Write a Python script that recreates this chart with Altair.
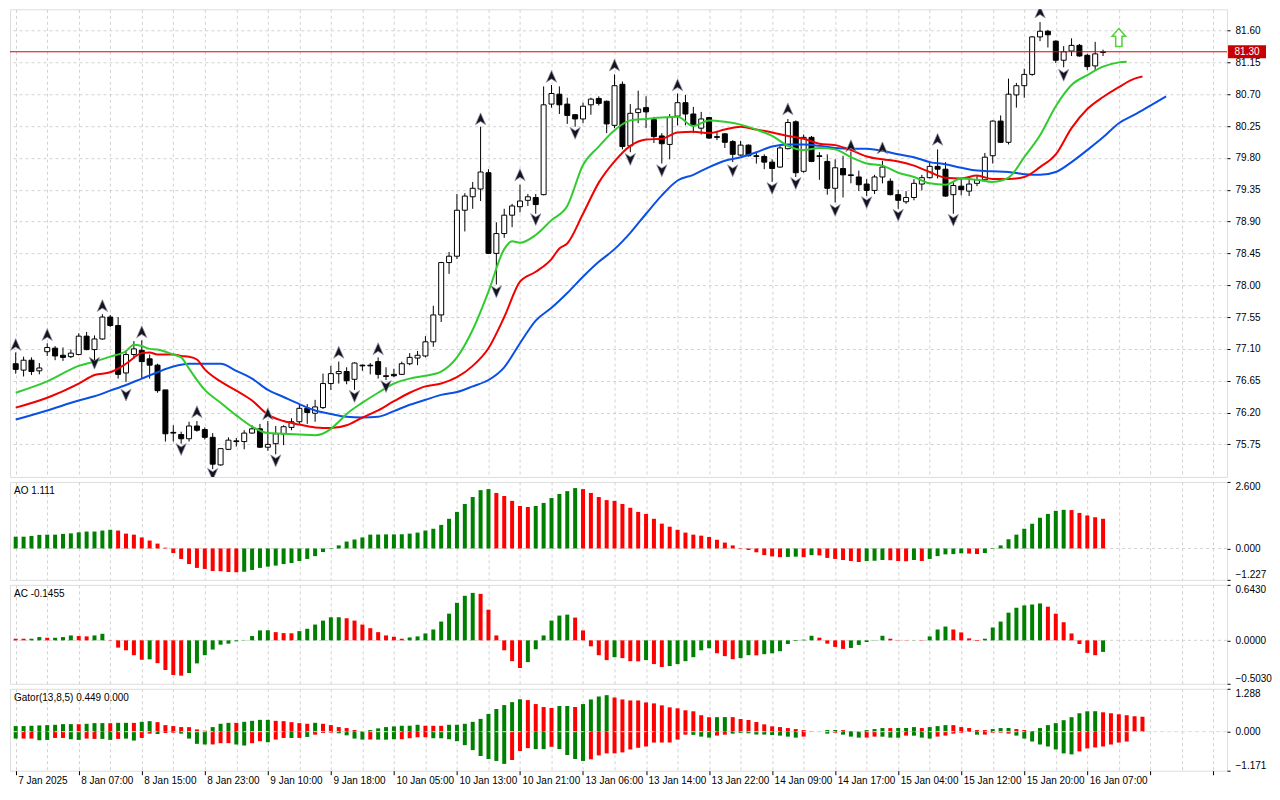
import json
import altair as alt
import pandas as pd

# ---------------- price candles (hourly bars, index 0..138) ----------------
opens = [76.89,76.80,76.94,76.79,77.06,77.11,77.01,76.99,77.02,77.28,
77.09,77.24,77.55,77.43,76.76,77.02,77.08,76.96,76.87,76.52,
75.92,75.89,75.83,76.01,75.96,75.85,75.46,75.68,75.80,75.79,
75.91,75.97,75.71,75.76,75.90,75.99,76.07,76.26,76.19,76.27,
76.61,76.75,76.78,76.67,76.87,76.87,76.92,76.72,76.74,76.74,
76.89,76.97,77.00,77.20,77.58,78.32,78.41,79.06,79.25,79.36,
79.59,78.45,78.73,78.99,79.11,79.20,79.24,79.28,80.56,80.70,
80.56,80.41,80.35,80.55,80.64,80.60,80.26,80.84,79.97,80.44,
80.51,80.34,80.11,79.99,80.39,80.58,80.42,80.22,80.37,80.10,
80.14,80.03,79.84,79.98,79.83,79.82,79.74,79.67,79.93,80.31,
79.61,80.09,79.83,79.75,79.37,79.65,79.56,79.53,79.43,79.34,
79.53,79.47,79.28,79.18,79.24,79.43,79.52,79.68,79.64,79.28,
79.40,79.33,79.44,79.49,79.83,80.32,80.02,80.69,80.82,80.98,
81.51,81.59,81.45,81.18,81.31,81.39,81.25,81.10,81.29]
highs = [77.05,76.99,76.98,76.90,77.18,77.14,77.12,77.09,77.32,77.34,
77.29,77.59,77.58,77.55,77.08,77.21,77.22,77.02,76.89,76.52,
76.02,75.93,76.07,76.08,75.99,75.91,75.70,75.85,75.84,75.95,
76.02,76.04,76.08,76.01,76.02,76.12,76.31,76.32,76.38,76.75,
76.86,76.92,76.84,76.91,76.88,76.90,76.98,76.84,76.82,76.92,
77.04,77.07,77.28,77.71,78.33,78.47,79.29,79.30,79.46,80.24,
79.64,78.89,79.08,79.15,79.42,79.29,79.29,80.81,80.83,80.81,
80.65,80.42,80.58,80.65,80.67,80.61,80.98,80.88,80.56,80.75,
80.67,80.38,80.15,80.42,80.71,80.69,80.52,80.45,80.38,80.17,
80.15,80.05,80.04,79.99,79.88,79.85,79.78,79.97,80.35,80.33,
80.13,80.11,79.88,79.85,79.78,79.83,79.89,79.62,79.50,79.56,
79.76,79.51,79.35,79.33,79.50,79.56,79.75,79.92,79.74,79.46,
79.52,79.53,79.55,79.87,80.33,80.40,80.92,80.86,81.06,81.52,
81.72,81.61,81.46,81.38,81.49,81.41,81.27,81.44,81.33]
lows = [76.75,76.71,76.73,76.74,77.00,76.94,76.93,76.97,77.01,77.08,
76.93,77.23,77.41,76.68,76.63,76.96,76.68,76.68,76.48,75.79,
75.79,75.76,75.79,75.93,75.82,75.40,75.45,75.67,75.72,75.68,
75.90,75.70,75.66,75.61,75.74,75.95,76.04,76.04,76.07,76.25,
76.52,76.61,76.60,76.52,76.79,76.74,76.68,76.66,76.70,76.73,
76.87,76.87,76.98,77.13,77.48,78.16,78.37,78.76,79.08,79.19,
78.44,78.01,78.67,78.82,79.03,79.12,79.01,79.27,80.51,80.42,
80.28,80.24,80.29,80.41,80.54,80.15,80.22,79.92,79.88,80.29,
80.22,80.01,79.72,79.78,80.26,80.26,80.15,80.13,80.07,80.05,
79.94,79.74,79.83,79.82,79.72,79.64,79.46,79.66,79.92,79.53,
79.59,79.74,79.49,79.28,79.17,79.24,79.44,79.33,79.26,79.29,
79.44,79.27,79.08,79.15,79.20,79.34,79.51,79.51,79.25,79.01,
79.27,79.26,79.40,79.47,79.72,80.01,79.99,80.51,80.65,80.96,
81.45,81.36,81.14,81.08,81.24,81.23,81.04,81.03,81.24]
closes = [76.81,76.94,76.78,76.83,77.12,77.00,76.98,77.04,77.28,77.09,
77.24,77.55,77.43,76.74,77.02,77.10,76.92,76.87,76.51,75.90,
75.91,75.83,76.01,75.95,75.85,75.47,75.69,75.81,75.79,75.91,
75.97,75.71,75.75,75.90,76.00,76.07,76.26,76.20,76.28,76.61,
76.75,76.78,76.65,76.90,76.86,76.86,76.74,76.71,76.72,76.89,
76.98,77.01,77.20,77.58,78.32,78.41,79.06,79.26,79.37,79.60,
78.45,78.73,78.99,79.12,79.19,79.25,79.14,80.55,80.71,80.55,
80.40,80.35,80.53,80.63,80.57,80.28,80.82,79.96,80.43,80.49,
80.45,80.10,80.00,80.37,80.58,80.42,80.26,80.35,80.08,80.09,
80.02,79.85,79.98,79.83,79.82,79.74,79.65,79.94,80.30,79.59,
80.09,79.75,79.82,79.37,79.66,79.56,79.55,79.42,79.34,79.53,
79.67,79.28,79.20,79.24,79.44,79.52,79.68,79.64,79.26,79.41,
79.35,79.43,79.49,79.81,80.32,80.02,80.70,80.82,80.98,81.51,
81.59,81.54,81.18,81.30,81.39,81.24,81.09,81.27,81.30]

time_labels = ["7 Jan 2025", "8 Jan 07:00", "8 Jan 15:00", "8 Jan 23:00", "9 Jan 10:00",
               "9 Jan 18:00", "10 Jan 05:00", "10 Jan 13:00", "10 Jan 21:00", "13 Jan 06:00",
               "13 Jan 14:00", "13 Jan 22:00", "14 Jan 09:00", "14 Jan 17:00", "15 Jan 04:00",
               "15 Jan 12:00", "15 Jan 20:00", "16 Jan 07:00"]
price_ticks = [75.75, 76.20, 76.65, 77.10, 77.55, 78.00, 78.45, 78.90, 79.35, 79.80,
               80.25, 80.70, 81.15, 81.60]
last_price = 81.30

# ---------------- Alligator lines (sampled along the bars) ----------------
jaw_k = [0,4,8,10,12,14,16,18,20,22,24,26,28,30,32,34,36,38,40,42,44,46,48,50,52,54,56,58,60,62,
         64,66,68,70,72,74,76,78,80,82,84,86,88,90,92,94,96,98,100,102,104,106,108,110,112,114,116,
         118,120,122,124,126,128,130,132,134,136,138,140,142,144,146]
jaw_v = [76.10,76.23,76.37,76.43,76.51,76.59,76.68,76.77,76.85,76.89,76.89,76.89,
         76.79,76.68,76.52,76.42,76.32,76.23,76.18,76.14,76.13,76.14,
         76.22,76.31,76.38,76.45,76.49,76.57,76.66,76.84,77.18,77.50,
         77.68,77.89,78.12,78.33,78.51,78.74,79.01,79.27,79.48,79.56,
         79.67,79.76,79.81,79.88,79.96,79.99,79.99,79.97,79.94,79.93,
         79.93,79.90,79.85,79.81,79.74,79.71,79.66,79.62,79.61,79.60,
         79.57,79.56,79.60,79.74,79.91,80.09,80.29,80.41,80.54,80.67]
teeth_k = [0,4,8,10,12,14,16,17,18,20,21,22,23,24,26,28,30,32,34,36,38,40,42,44,46,48,50,52,54,56,
           58,60,62,64,66,68,69,70,72,74,76,78,80,82,84,86,88,90,92,94,96,98,100,102,104,106,108,
           110,112,114,116,118,120,122,124,126,128,130,132,134,136,138,140,142,143]
teeth_v = [76.27,76.41,76.61,76.73,76.77,76.89,77.04,77.05,77.02,77.02,
           77.00,76.99,76.95,76.81,76.64,76.51,76.37,76.17,76.08,76.03,
           75.99,75.98,76.02,76.13,76.23,76.36,76.48,76.57,76.61,76.70,
           76.86,77.11,77.55,78.05,78.19,78.37,78.52,78.59,79.01,79.45,
           79.75,79.97,80.06,80.07,80.16,80.17,80.15,80.20,80.24,80.20,
           80.16,80.11,80.07,80.00,79.98,79.91,79.82,79.78,79.75,79.69,
           79.60,79.52,79.51,79.55,79.50,79.50,79.53,79.67,79.85,80.22,
           80.49,80.66,80.80,80.92,80.95]
lips_k = [0,4,8,10,12,14,15,16,17,18,20,21,22,24,26,28,30,32,34,36,38,40,41,42,44,46,48,50,52,54,
          56,58,60,62,63,64,66,68,70,72,74,76,78,80,82,84,86,88,90,92,94,96,98,100,102,104,106,108,
          110,112,114,116,118,120,122,124,126,128,130,132,134,136,138,140,141]
lips_v = [76.48,76.64,76.86,76.92,76.99,77.07,77.16,77.14,77.10,77.09,
          77.02,76.98,76.82,76.52,76.34,76.16,76.00,75.91,75.90,75.89,
          75.88,75.97,76.07,76.18,76.34,76.48,76.61,76.68,76.72,76.78,
          76.98,77.37,77.91,78.51,78.62,78.60,78.71,78.92,79.12,79.70,
          79.96,80.19,80.33,80.35,80.37,80.38,80.25,80.33,80.31,80.27,
          80.20,80.11,79.97,79.91,79.94,79.92,79.81,79.72,79.69,79.59,
          79.53,79.44,79.42,79.51,79.49,79.46,79.52,79.81,80.12,80.53,
          80.83,80.97,81.09,81.15,81.16]

# ---------------- Fractals and signal arrow ----------------
up_k = [0,4,11,16,23,32,41,46,59,64,68,76,84,98,106,110,117,130]
up_p = [77.16,77.30,77.71,77.34,76.21,76.18,77.05,77.10,80.35,79.56,80.95,81.11,80.83,80.49,
        79.97,79.94,80.06,81.86]
down_k = [10,14,21,25,33,43,47,61,66,71,78,82,91,96,99,104,108,112,119,133]
down_p = [76.90,76.45,75.68,75.33,75.52,76.43,76.57,77.91,78.93,80.15,79.78,79.62,79.62,79.37,
          79.44,79.06,79.17,78.99,78.92,80.97]
signal_k = [140]
signal_p = [81.50]

# ---------------- Awesome Oscillator ----------------
ao_vals = [0.46,0.46,0.49,0.53,0.54,0.54,0.57,0.59,0.63,0.66,
0.66,0.70,0.73,0.70,0.58,0.54,0.43,0.31,0.19,0.03,
-0.18,-0.41,-0.61,-0.76,-0.80,-0.88,-0.89,-0.92,-0.93,-0.91,
-0.84,-0.76,-0.71,-0.67,-0.61,-0.57,-0.49,-0.41,-0.30,-0.14,
-0.02,0.12,0.27,0.35,0.43,0.54,0.545,0.55,0.55,0.555,
0.58,0.62,0.70,0.77,0.92,1.16,1.43,1.74,2.01,2.28,
2.32,2.17,2.05,1.86,1.66,1.62,1.66,1.78,1.97,2.13,
2.24,2.36,2.32,2.17,2.01,1.89,1.86,1.74,1.59,1.43,
1.35,1.16,0.97,0.85,0.73,0.62,0.54,0.50,0.45,0.34,
0.23,0.12,-0.02,-0.06,-0.15,-0.26,-0.31,-0.34,-0.33,-0.32,
-0.34,-0.26,-0.27,-0.37,-0.41,-0.45,-0.49,-0.53,-0.49,-0.48,
-0.45,-0.46,-0.49,-0.50,-0.45,-0.49,-0.41,-0.30,-0.23,-0.22,
-0.19,-0.20,-0.22,-0.18,-0.02,0.12,0.36,0.54,0.77,0.97,
1.20,1.35,1.47,1.51,1.50,1.39,1.29,1.22,1.16]
ao_cols = ("GGGGGGGGGG" "GGGRRRRRRR" "RRRRRRRRRG" "GGGGGGGGGG" "GGGGGGGGGG" "GGGGGGGGGG"
           "GRRRRRGGGG" "GGRRRRRRRR" "RRRRRRRRRR" "RRRRRRRRGG" "RGRRRRRRGG" "GRRRGRGGGG"
           "GRRGGGGGGG" "GGGGRRRRR")

# ---------------- Accelerator Oscillator ----------------
ac_vals = [0.019,0.019,0.019,0.038,0.030,0.030,0.038,0.057,0.050,0.046,
0.057,0.076,0.004,-0.084,-0.115,-0.172,-0.225,-0.220,-0.264,-0.344,
-0.401,-0.409,-0.378,-0.267,-0.172,-0.107,-0.050,-0.038,-0.011,0.003,
0.050,0.115,0.117,0.095,0.084,0.082,0.107,0.134,0.183,0.229,
0.267,0.268,0.256,0.229,0.183,0.141,0.095,0.057,0.042,0.019,
0.034,0.046,0.080,0.126,0.218,0.309,0.435,0.516,0.550,0.539,
0.355,0.057,-0.115,-0.241,-0.321,-0.252,-0.103,0.057,0.229,0.287,
0.298,0.264,0.115,-0.069,-0.172,-0.229,-0.195,-0.206,-0.241,-0.243,
-0.229,-0.275,-0.309,-0.298,-0.275,-0.241,-0.195,-0.115,-0.092,-0.149,
-0.183,-0.218,-0.206,-0.172,-0.174,-0.160,-0.150,-0.126,-0.042,-0.008,
0.008,0.053,0.031,-0.038,-0.076,-0.099,-0.088,-0.053,-0.019,-0.003,
0.053,0.019,0.003,-0.003,0.002,-0.004,0.046,0.126,0.160,0.126,
0.092,0.023,-0.008,0.019,0.149,0.218,0.321,0.378,0.405,0.416,
0.428,0.390,0.309,0.210,0.080,-0.042,-0.145,-0.172,-0.134]
ac_cols = ("RRGGRGGGRR" "GGRRRRRGRR" "RRGGGGGGGG" "GGGRRRGGGG" "GGRRRRRRRR" "GGGGGGGGGR"
           "RRRRRGGGGG" "GRRRRRGRRR" "GRRGGGGGGR" "RRGGRGGGGG" "GGRRRRGGGG" "GRRRGRGGGR"
           "RRRGGGGGGG" "GRRRRRRRG")

# ---------------- Gator oscillator ----------------
gator_up = [0.168,0.168,0.178,0.188,0.197,0.207,0.227,0.227,0.225,0.237,
0.257,0.257,0.255,0.266,0.266,0.264,0.296,0.316,0.286,0.197,
0.168,0.138,0.136,0.069,0.030,0.138,0.237,0.266,0.265,0.296,
0.326,0.355,0.356,0.326,0.316,0.286,0.257,0.237,0.266,0.237,
0.197,0.138,0.109,0.049,0.010,0.049,0.099,0.138,0.158,0.178,
0.179,0.207,0.178,0.177,0.176,0.207,0.208,0.237,0.296,0.385,
0.533,0.681,0.799,0.888,0.977,0.948,0.829,0.740,0.711,0.770,
0.771,0.740,0.829,0.967,1.056,1.096,1.026,0.967,0.938,0.937,
0.878,0.849,0.790,0.730,0.701,0.642,0.612,0.494,0.434,0.436,
0.438,0.437,0.380,0.350,0.290,0.220,0.160,0.138,0.109,0.079,
0.049,0.012,0.005,0.049,0.050,0.048,0.020,0.006,0.049,0.079,
0.109,0.108,0.110,0.111,0.138,0.109,0.138,0.168,0.197,0.196,
0.138,0.109,0.049,0.048,0.079,0.109,0.110,0.079,0.049,0.020,
0.109,0.197,0.257,0.345,0.434,0.553,0.612,0.614,0.582,0.553,
0.523,0.494,0.464,0.449]
gator_up_cols = ("GGGGGGGGRG" "GGRGGRGGRR" "RRRRRGGGRG" "GGGRRRRRGR" "RRRRRGGGGG" "GGRRRGGGGG"
                 "GGGGGRRRRG" "GRGGGGRRRR" "RRRRRRRRRG" "GRRRRRRRRR" "RRRGGRRRGG" "GRGGGRGGGR"
                 "RRRRGGGRRR" "GGGGGGGGRR" "RRRR")
gator_lo = [-0.207,-0.207,-0.207,-0.257,-0.247,-0.188,-0.188,-0.227,-0.247,-0.207,
-0.217,-0.217,-0.247,-0.217,-0.207,-0.266,-0.188,-0.059,-0.069,-0.039,
-0.030,-0.059,-0.207,-0.365,-0.385,-0.383,-0.345,-0.344,-0.385,-0.415,
-0.345,-0.286,-0.316,-0.237,-0.188,-0.189,-0.187,-0.158,-0.089,-0.039,
-0.030,-0.049,-0.109,-0.207,-0.237,-0.236,-0.238,-0.239,-0.227,-0.226,
-0.197,-0.168,-0.167,-0.197,-0.198,-0.227,-0.286,-0.405,-0.553,-0.730,
-0.819,-0.878,-0.967,-0.849,-0.582,-0.494,-0.523,-0.524,-0.454,-0.523,
-0.700,-0.819,-0.878,-0.829,-0.711,-0.651,-0.650,-0.622,-0.533,-0.484,
-0.444,-0.326,-0.325,-0.324,-0.237,-0.089,-0.095,-0.148,-0.178,-0.118,
-0.089,-0.059,-0.035,-0.050,-0.085,-0.088,-0.100,-0.118,-0.148,-0.178,
-0.148,-0.010,-0.005,-0.059,-0.030,-0.089,-0.148,-0.178,-0.176,-0.148,
-0.150,-0.178,-0.180,-0.118,-0.120,-0.178,-0.207,-0.148,-0.118,-0.059,
-0.030,-0.005,-0.089,-0.088,-0.030,-0.029,-0.059,-0.118,-0.207,-0.296,
-0.385,-0.444,-0.533,-0.651,-0.681,-0.592,-0.503,-0.474,-0.444,-0.385,
-0.326,-0.296]
gator_lo_cols = ("GRRGGRRGGR" "RGGRGGRRGR" "RGGGGRRRGG" "RRGRRGRGRR" "RGGGGRGGGR" "RRRGGGGGGG"
                 "GGGRRRGGRG" "GGGRRRRRRR" "RRRRRRGGGR" "RGGGGGGGGG" "RRRGRGGGRR" "GGGRGGGRRR"
                 "RRGRRRRGGG" "GGGGGRRRRR" "RR")

panel_titles = ["AO 1.111", "AC -0.1455", "Gator(13,8,5) 0.449 0.000"]
ao_domain = [-1.227, 2.6]
ac_domain = [-0.503, 0.643]
gator_domain = [-1.171, 1.288]
main_domain = [75.29, 81.90]

# ---------------- styling ----------------
FONT = "Liberation Sans"
W = 1218
H_MAIN, H_AO, H_AC, H_GT = 468, 98, 99, 82
GRID = "#d2d2d2"
GREEN = "#008000"
RED = "#ff0000"
PRICE_RED = "#e00000"
X_DOMAIN = [-0.09, 153.1]
grid_vals = list(range(0, 153, 4))

label_expr = "(datum.value % 8 == 0 && datum.value / 8 < {n}) ? {arr}[datum.value / 8] : ''".format(
    n=len(time_labels), arr=json.dumps(time_labels))

xscale = alt.Scale(domain=X_DOMAIN, nice=False, zero=False)


def xaxis(labels):
    if labels:
        return alt.Axis(values=grid_vals, grid=True, gridDash=[3, 3], gridColor=GRID,
                        labelExpr=label_expr, labelAlign="left", labelBaseline="top",
                        labelFlush=False, labelOverlap=False, labelBound=False,
                        labelFont=FONT, labelFontSize=10, labelColor="black",
                        labelPadding=1, labelOffset=2,
                        ticks=True, tickSize=4, tickColor="black",
                        tickOpacity={"condition": {"test": "datum.value % 8 == 0", "value": 1}, "value": 0},
                        domain=False, title=None)
    return alt.Axis(values=grid_vals, grid=True, gridDash=[3, 3], gridColor=GRID,
                    labels=False, ticks=False, domain=False, title=None)


def X(field, labels=False):
    return alt.X(f"{field}:Q", scale=xscale, axis=xaxis(labels))


main_yscale = alt.Scale(domain=main_domain, nice=False, zero=False)
main_yaxis = alt.Axis(orient="right", values=price_ticks, format=".2f", grid=True, gridDash=[3, 3],
                      gridColor=GRID, tickSize=3, tickColor="black", domain=False, labelFont=FONT,
                      labelFontSize=10, labelColor="black", labelPadding=5, title=None)


def YM(field):
    return alt.Y(f"{field}:Q", scale=main_yscale, axis=main_yaxis)


n = min(len(opens), len(highs), len(lows), len(closes))
candles = pd.DataFrame({"k": list(range(n)), "open": opens[:n], "high": highs[:n],
                        "low": lows[:n], "close": closes[:n]})
candles["fillc"] = ["white" if c >= o else "black" for o, c in zip(candles["open"], candles["close"])]

wicks = alt.Chart(candles).mark_rule(color="black", strokeWidth=1).encode(
    x=X("k"), y=YM("low"), y2="high:Q")
bodies = alt.Chart(candles).mark_bar(size=5, stroke="black", strokeWidth=1, opacity=1).encode(
    x=X("k"), y=YM("open"), y2="close:Q", fill=alt.Fill("fillc:N", scale=None))


def line_layer(ks, vs, color):
    m = min(len(ks), len(vs))
    df = pd.DataFrame({"k": ks[:m], "v": vs[:m]})
    return alt.Chart(df).mark_line(color=color, strokeWidth=2, interpolate="monotone").encode(
        x=X("k"), y=YM("v"))


jaw = line_layer(jaw_k, jaw_v, "#0a50e6")
teeth = line_layer(teeth_k, teeth_v, "#f20000")
lips = line_layer(lips_k, lips_v, "#2fcc2f")

UP_PATH = "M0,-1L0.85,0.95L0,0.4L-0.85,0.95Z"
DN_PATH = "M0,1L0.85,-0.95L0,-0.4L-0.85,-0.95Z"
up_df = pd.DataFrame({"k": up_k, "p": up_p})
dn_df = pd.DataFrame({"k": down_k, "p": down_p})
up_fr = alt.Chart(up_df).mark_point(shape=UP_PATH, filled=True, color="#141420", stroke="#9a9aae",
                                     strokeWidth=0.7, size=150, opacity=1, clip=True).encode(
    x=X("k"), y=YM("p"))
dn_fr = alt.Chart(dn_df).mark_point(shape=DN_PATH, filled=True, color="#141420", stroke="#9a9aae",
                                     strokeWidth=0.7, size=150, opacity=1, clip=True).encode(
    x=X("k"), y=YM("p"))

lp_df = pd.DataFrame({"p": [last_price], "t": [f"{last_price:.2f}"]})
red_line = alt.Chart(lp_df).mark_rule(color=PRICE_RED, stroke=PRICE_RED, strokeWidth=1.2,
                                      opacity=1).encode(y=YM("p"))
box = alt.Chart(lp_df).mark_point(shape="M-1,-0.34L1,-0.34L1,0.34L-1,0.34Z", size=1444, filled=True,
                                  color="#c80000", opacity=1).encode(x=alt.value(W + 20), y=YM("p"))
box_text = alt.Chart(lp_df).mark_text(color="white", font=FONT, fontSize=10, align="center",
                                      baseline="middle").encode(x=alt.value(W + 20), y=YM("p"), text="t:N")

ARROW = "M0,-1L0.75,-0.15L0.35,-0.15L0.35,1L-0.35,1L-0.35,-0.15L-0.75,-0.15Z"
sig_df = pd.DataFrame({"k": signal_k, "p": signal_p})
signal = alt.Chart(sig_df).mark_point(shape=ARROW, size=324, filled=True, fill="white",
                                      stroke="#52d23a", strokeWidth=1.5, opacity=1).encode(
    x=X("k"), y=YM("p"))

main = alt.layer(wicks, bodies, jaw, teeth, lips, up_fr, dn_fr, red_line, box, box_text, signal).properties(
    width=W, height=H_MAIN)


def hist_df(vals, cols):
    m = min(len(vals), len(cols))
    return pd.DataFrame({"k": list(range(m)), "v": vals[:m], "c": list(cols[:m]), "z": [0.0] * m})


def y_ind(domain, fmt):
    scale = alt.Scale(domain=domain, nice=False, zero=False)
    axis = alt.Axis(orient="right", values=[domain[0], 0, domain[1]], format=fmt, grid=False,
                    tickSize=3, tickColor="black", domain=False, labelFont=FONT, labelFontSize=10,
                    labelColor="black", labelPadding=5, labelFlush=True, title=None)
    return scale, axis


color_enc = alt.Color("c:N", scale=alt.Scale(domain=["G", "R"], range=[GREEN, RED]), legend=None)


def title_layer(text):
    return alt.Chart(pd.DataFrame({"t": [text]})).mark_text(
        align="left", baseline="middle", font=FONT, fontSize=10, color="black").encode(
        x=alt.value(4), y=alt.value(9), text="t:N")


def osc_panel(vals, cols, domain, fmt, title, height, labels=False):
    scale, axis = y_ind(domain, fmt)
    df = hist_df(vals, cols)
    zero = alt.Chart(pd.DataFrame({"z": [0.0]})).mark_rule(color=GRID, strokeDash=[3, 3]).encode(
        y=alt.Y("z:Q", scale=scale, axis=axis))
    bars = alt.Chart(df).mark_bar(size=4, opacity=1).encode(
        x=X("k", labels), y=alt.Y("v:Q", scale=scale, axis=axis), y2="z:Q", color=color_enc)
    return alt.layer(zero, bars, title_layer(title)).properties(width=W, height=height)


ao = osc_panel(ao_vals, ao_cols, ao_domain, ".3f", panel_titles[0], H_AO)
ac = osc_panel(ac_vals, ac_cols, ac_domain, ".4f", panel_titles[1], H_AC)

g_scale, g_axis = y_ind(gator_domain, ".3f")
g_up = alt.Chart(hist_df(gator_up, gator_up_cols)).mark_bar(size=4, opacity=1).encode(
    x=X("k", True), y=alt.Y("v:Q", scale=g_scale, axis=g_axis), y2="z:Q", color=color_enc)
g_lo = alt.Chart(hist_df(gator_lo, gator_lo_cols)).mark_bar(size=4, opacity=1).encode(
    x=X("k", True), y=alt.Y("v:Q", scale=g_scale, axis=g_axis), y2="z:Q", color=color_enc)
g_zero = alt.Chart(pd.DataFrame({"z": [0.0]})).mark_rule(color="#dcdcdc", strokeDash=[4, 3]).encode(
    y=alt.Y("z:Q", scale=g_scale, axis=g_axis))
gator = alt.layer(g_up, g_lo, g_zero, title_layer(panel_titles[2])).properties(width=W, height=H_GT)

chart = alt.vconcat(main, ao, ac, gator, spacing=3).properties(
    padding={"left": 0, "right": 0, "top": 0, "bottom": 0}, background="white"
).configure_view(stroke="black", strokeWidth=1).configure(font=FONT)

chart.save("out.html", embed_options={"renderer": "svg", "actions": False})
